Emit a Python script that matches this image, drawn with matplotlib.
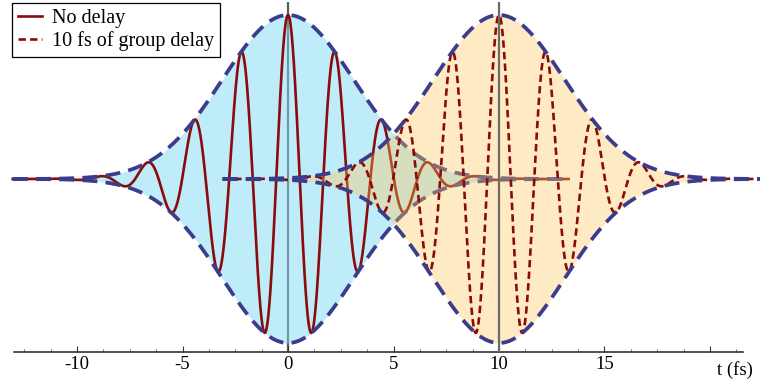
import numpy as np
import matplotlib.pyplot as plt
from matplotlib.ticker import FixedLocator, FixedFormatter

# pulse parameters (times in fs)
pulse_centers = [0.0, 10.0]
pulse_spans = [(-13.05, 13.3), (-3.1, 23.5)]
carrier_period = 2.23
envelope_width = 4.4  # 1/e half width of the field envelope
labels = ["No delay", "10 fs of group delay"]

fill_colors = ["#7fdcf5", "#ffc85a"]
fill_alphas = [0.5, 0.36]
carrier_dashes = [None, (2.8, 1.6)]
red = "#8b0a0a"
navy = "#3c3c8c"

major_ticks = [-10, -5, 0, 5, 10, 15, 20]
major_labels = ["-10", "-5", "0", "5", "10", "15", ""]
minor_ticks = [-12.5, -11.25, -8.75, -7.5, -6.25, -3.75, -2.5, -1.25,
               1.25, 2.5, 3.75, 6.25, 7.5, 8.75, 11.25, 12.5, 13.75,
               16.25, 17.5, 18.75, 21.25]
marker_lines = [0, 10]

plt.rcParams["font.family"] = ["Liberation Serif", "DejaVu Serif"]

fig = plt.figure(figsize=(7.6, 3.83), dpi=100)
ax = fig.add_axes([0, 0, 1, 1])
ax.set_xlim(-13.65, 22.37)
ax.set_ylim(-1.244, 1.0915)
axis_y = -1.055

# gray lines at t=0 (under the fill) and t=10 (on top)
ax.vlines(marker_lines[0], axis_y, 1.08, color="#5a5a5a", lw=1.6, zorder=1)
ax.vlines(marker_lines[1], axis_y, 1.08, color="#6a6a6a", lw=1.6, zorder=20)

for i, c in enumerate(pulse_centers):
    t = np.linspace(pulse_spans[i][0], pulse_spans[i][1], 3000)
    env = np.exp(-((t - c) / envelope_width) ** 2)
    field = env * np.cos(2 * np.pi * (t - c) / carrier_period)
    z = 2 + 4 * i
    ax.fill_between(t, -env, env, color=fill_colors[i], alpha=fill_alphas[i],
                    lw=0, zorder=z)
    line, = ax.plot(t, field, color=red, lw=1.9, zorder=z + 1, label=labels[i])
    if carrier_dashes[i]:
        line.set_dashes(carrier_dashes[i])
    for s in (1, -1):
        ax.plot(t, s * env, color=navy, lw=2.7, dashes=(4.0, 2.2),
                dash_capstyle="butt", zorder=z + 2)

# axis along the bottom
for side in ("top", "left", "right"):
    ax.spines[side].set_visible(False)
ax.spines["bottom"].set_position(("data", axis_y))
ax.spines["bottom"].set_bounds(-13.0, 21.56)
ax.spines["bottom"].set_linewidth(1.2)
ax.spines["bottom"].set_color("#333333")
ax.xaxis.set_major_locator(FixedLocator(major_ticks))
ax.xaxis.set_major_formatter(FixedFormatter(major_labels))
ax.xaxis.set_minor_locator(FixedLocator(minor_ticks))
ax.tick_params(axis="x", which="major", direction="in", length=4, width=0.8,
               labelsize=13.5, pad=3, color="#333333")
ax.tick_params(axis="x", which="minor", direction="in", length=2, width=0.6,
               color="#555555")
ax.set_yticks([])
ax.text(22.04, -1.11, "t (fs)", fontsize=13.5, ha="right", va="top")

leg = ax.legend(loc="upper left", bbox_to_anchor=(0.0158, 0.992),
                borderaxespad=0, fontsize=14.5, fancybox=False, framealpha=1,
                edgecolor="black", handlelength=1.2, handletextpad=0.5,
                labelspacing=0.15, borderpad=0.3)
leg.get_frame().set_linewidth(0.9)
leg.set_zorder(30)

fig.savefig("out.png", dpi=100)
